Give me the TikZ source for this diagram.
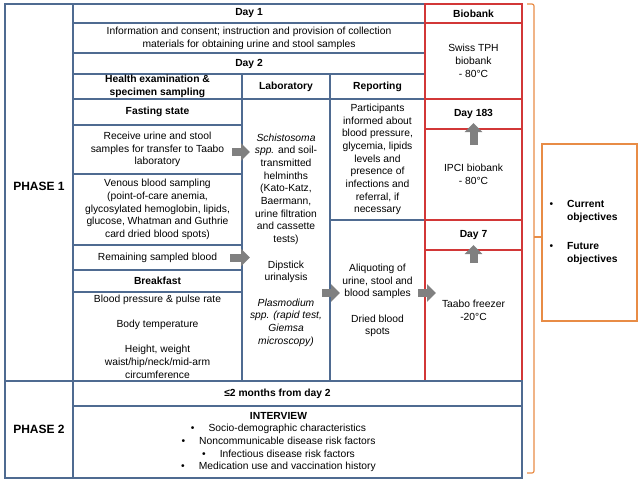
\documentclass[tikz,border=0pt]{standalone}
\usepackage{fontspec}
\setmainfont{Liberation Sans}
\usetikzlibrary{arrows.meta}
\definecolor{framecol}{RGB}{79,107,145}
\definecolor{storecol}{RGB}{210,55,55}
\definecolor{bracecol}{RGB}{232,140,70}
\definecolor{arrowcol}{RGB}{128,128,128}

\begin{document}
\begin{tikzpicture}[x=1pt, y=-1pt,
   every node/.style={font=\fontsize{10.3}{12.7}\selectfont, align=center, inner sep=1pt, outer sep=0pt},
   cell/.style={draw=framecol, line width=1.2pt, anchor=north west},
   store/.style={cell, draw=storecol},
   head/.style={font=\fontsize{10.3}{12.7}\selectfont\bfseries},
   phase/.style={font=\fontsize{12}{14}\selectfont\bfseries},
   grayarrow/.style={draw=arrowcol, line width=8pt, -{Triangle[width=17pt,length=9pt]}}]

\useasboundingbox (0,0) rectangle (640,480);

\node[cell, minimum width=68, minimum height=377,
      label={[phase, yshift=6pt]center:PHASE 1}] (phase1) at (5,4) {};
\node[cell, phase, minimum width=68, minimum height=97] (phase2) at (5,381) {PHASE 2};

\node[cell, head, minimum width=352, minimum height=19] (day1) at (73,4) {Day 1};
\node[cell, minimum width=352, minimum height=30] (info) at (73,23)
    {Information and consent; instruction and provision of collection\\materials for obtaining urine and stool samples};
\node[cell, head, minimum width=352, minimum height=21] (day2) at (73,53) {Day 2};

\node[cell, head, minimum width=169, minimum height=25] (health) at (73,74) {Health examination \&\\specimen sampling};
\node[cell, head, minimum width=88, minimum height=25] (labhead) at (242,74) {Laboratory};
\node[cell, head, minimum width=95, minimum height=25] (rephead) at (330,74) {Reporting};

\node[cell, head, minimum width=169, minimum height=26] (fasting) at (73,99) {Fasting state};
\node[cell, minimum width=169, minimum height=49] (receive) at (73,125)
    {Receive urine and stool\\samples for transfer to Taabo\\laboratory};
\node[cell, minimum width=169, minimum height=71] (venous) at (73,174)
    {Venous blood sampling\\(point-of-care anemia,\\glycosylated hemoglobin, lipids,\\glucose, Whatman and Guthrie\\card dried blood spots)};
\node[cell, minimum width=169, minimum height=25] (remain) at (73,245) {Remaining sampled blood};
\node[cell, head, minimum width=169, minimum height=22] (breakfast) at (73,270) {Breakfast};
\node[cell, minimum width=169, minimum height=89] (vitals) at (73,292)
    {Blood pressure \& pulse rate\\[12.7pt]Body temperature\\[12.7pt]Height, weight\\waist/hip/neck/mid-arm\\circumference};

\node[cell, minimum width=88, minimum height=282] (lab) at (242,99)
    {\textit{Schistosoma}\\\textit{spp.} and soil-\\transmitted\\helminths\\(Kato-Katz,\\Baermann,\\urine filtration\\and cassette\\tests)\\[12.7pt]
     Dipstick\\urinalysis\\[12.7pt]\textit{Plasmodium}\\\textit{spp. (rapid test,}\\\textit{Giemsa}\\\textit{microscopy)}};

\node[cell, minimum width=95, minimum height=121] (inform) at (330,99)
    {Participants\\informed about\\blood pressure,\\glycemia, lipids\\levels and\\presence of\\infections and\\referral, if\\necessary};
\node[cell, minimum width=95, minimum height=161] (aliquot) at (330,220)
    {Aliquoting of\\urine, stool and\\blood samples\\[12.7pt]Dried blood\\spots};

\node[store, head, minimum width=97, minimum height=19] (biobank) at (425,4) {Biobank};
\node[store, minimum width=97, minimum height=76] (swiss) at (425,23) {Swiss TPH\\biobank\\- 80°C};
\node[store, head, minimum width=97, minimum height=30] (day183) at (425,99) {Day 183};
\node[store, minimum width=97, minimum height=91] (ipci) at (425,129) {IPCI biobank\\- 80°C};
\node[store, head, minimum width=97, minimum height=30] (day7) at (425,220) {Day 7};
\node[store, minimum width=97, minimum height=131,
      label={[yshift=5pt]center:Taabo freezer\\-20°C}] (taabo) at (425,250) {};

\node[cell, minimum width=449, minimum height=25,
      label={[head, xshift=-20pt]center:≤2 months from day 2}] (months) at (73,381) {};
\node[cell, minimum width=449, minimum height=72,
      label={[xshift=-19pt]center:\textbf{INTERVIEW}\\
     \textbullet\hspace{14pt}Socio-demographic characteristics\\
     \textbullet\hspace{14pt}Noncommunicable disease risk factors\\
     \textbullet\hspace{14pt}Infectious disease risk factors\\
     \textbullet\hspace{14pt}Medication use and vaccination history}] (interview) at (73,406) {};

\draw[grayarrow] ([xshift=-10pt,yshift=-2.5pt]receive.east) -- ([xshift=8pt,yshift=-2.5pt]receive.east);
\draw[grayarrow] ([xshift=-12pt]remain.east) -- ([xshift=8pt]remain.east);
\draw[grayarrow] ([xshift=-8pt,yshift=7.5pt]aliquot.west) -- ([xshift=10pt,yshift=7.5pt]aliquot.west);
\draw[grayarrow] ([xshift=-7pt,yshift=7.5pt]aliquot.east) -- ([xshift=11pt,yshift=7.5pt]aliquot.east);
\draw[grayarrow] ([yshift=-13pt]taabo.north) -- ([yshift=5pt]taabo.north);
\draw[grayarrow] ([yshift=-16pt]ipci.north) -- ([yshift=6pt]ipci.north);

\node[cell, draw=bracecol, minimum width=95, minimum height=177, text width=80, align=left] (objectives) at (542,144)
    {\begin{tabular}{@{}l@{\hspace{14pt}}l@{}}
     \textbullet & \textbf{Current}\\ & \textbf{objectives}\\[16pt]
     \textbullet & \textbf{Future}\\ & \textbf{objectives}
     \end{tabular}};

\coordinate (tip) at (534,237);
\draw[bracecol, line width=1.2pt, rounded corners=2pt] (527,4) -| (534,473) -- (527,473);
\draw[bracecol, line width=1.2pt] (tip) -- (tip -| objectives.west);

\end{tikzpicture}
\end{document}
